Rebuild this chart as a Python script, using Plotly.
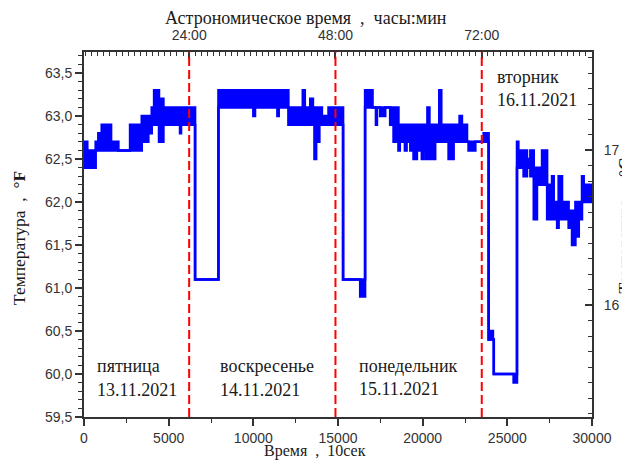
import plotly.graph_objects as go

# ---------------- data ----------------
# time in 10-second units where each step starts, with the max / min
# temperature (°F) of the recorded signal inside that step
seg_start = [0, 195, 690, 845, 945, 1045, 1600, 2030, 2720, 3410, 3800, 4000, 4140, 4430,
             4690, 5670, 5730, 6560, 7940, 9300, 9420, 10000, 10100, 11420, 11500, 12070,
             12920, 13040, 13360, 13520, 13610, 13710, 13790, 13900, 14050, 14440, 15300,
             16310, 16600, 17040, 17240, 17300, 17490, 17790, 18080, 18280, 18570, 18650,
             18950, 19050, 19270, 19460, 19660, 19950, 20050, 20200, 20280, 20400, 20740,
             20980, 21100, 21530, 21830, 22180, 22320, 22620, 22710, 23110, 23600, 23895,
             24000, 24150, 24200, 25370, 25570, 25650, 25960, 26160, 26360, 26560, 26750,
             27050, 27350, 27640, 27740, 27940, 28030, 28230, 28620, 28820, 29020, 29220,
             29410, 29510]
seg_max = [62.7, 62.6, 62.7, 62.8, 62.7, 62.9, 62.7, 62.6, 62.9, 63.0, 63.0, 63.1, 63.3, 63.2,
           63.1, 63.1, 63.1, 61.1, 63.3, 63.2, 63.3, 63.3, 63.3, 63.3, 63.3, 63.1,
           63.3, 63.1, 63.2, 63.1, 63.1, 63.1, 63.1, 63.1, 63.0, 63.1, 61.1,
           61.1, 63.3, 63.1, 63.1, 63.1, 63.1, 63.1, 63.1, 63.1, 62.9, 62.9,
           62.9, 62.9, 62.9, 62.9, 62.9, 62.9, 62.9, 62.9, 63.1, 62.9, 62.9,
           63.3, 62.9, 62.9, 62.9, 63.0, 62.9, 62.7, 62.7, 62.7, 62.8, 60.4,
           60.5, 60.4, 60.0, 60.0, 62.7, 62.6, 62.6, 62.5, 62.6, 62.4, 62.4,
           62.6, 62.2, 62.3, 62.0, 62.0, 62.3, 62.0, 61.9, 61.9, 62.0, 62.0,
           62.3, 62.2]
seg_min = [62.4, 62.4, 62.6, 62.6, 62.6, 62.6, 62.6, 62.6, 62.6, 62.7, 62.8, 62.9, 62.9, 62.7,
           62.9, 62.8, 62.9, 61.1, 63.1, 63.1, 63.1, 63.0, 63.1, 63.0, 63.1, 62.9,
           62.9, 62.9, 62.9, 62.9, 62.5, 62.9, 62.7, 62.9, 62.9, 62.9, 61.1,
           60.9, 63.1, 63.1, 62.9, 63.1, 63.0, 63.1, 62.9, 62.7, 62.6, 62.7,
           62.6, 62.7, 62.6, 62.5, 62.6, 62.5, 62.6, 62.5, 62.7, 62.5, 62.7,
           62.8, 62.7, 62.5, 62.7, 62.7, 62.7, 62.7, 62.6, 62.7, 62.7, 60.4,
           60.4, 60.4, 60.0, 59.9, 62.4, 62.4, 62.3, 62.4, 62.3, 61.8, 62.2,
           62.2, 61.8, 61.8, 61.8, 61.7, 61.8, 61.8, 61.7, 61.5, 61.6, 61.8,
           62.0, 62.0]
x_end = 30000

# bottom axis
x_ticks = [0, 5000, 10000, 15000, 20000, 25000, 30000]
# left axis (°F)
y_ticks = [59.5, 60.0, 60.5, 61.0, 61.5, 62.0, 62.5, 63.0, 63.5]
y_ticktext = ["59,5", "60,0", "60,5", "61,0", "61,5", "62,0", "62,5", "63,0", "63,5"]
# right axis (°C)
c_ticks = [16, 17]
# top axis: astronomical time (hours), midnight marks
hour_ticks = [24, 48, 72]
hour_ticktext = ["24:00", "48:00", "72:00"]
midnight_x = 6210          # position of 24:00 on the bottom axis (10 s units)
units_per_hour = 360       # 10-second units per hour

day_names = ["пятница", "воскресенье", "понедельник", "вторник"]
day_dates = ["13.11.2021", "14.11.2021", "15.11.2021", "16.11.2021"]

# ---------------- figure ----------------
y_lo, y_hi = 59.5, 63.745
x_lo, x_hi = 0, 30000
h_lo = hour_ticks[0] + (x_lo - midnight_x) / units_per_hour
h_hi = hour_ticks[0] + (x_hi - midnight_x) / units_per_hour
c_lo, c_hi = (y_lo - 32) / 1.8, (y_hi - 32) / 1.8

xs = seg_start + [x_end]
ymax = seg_max + [seg_max[-1]]
ymin = seg_min + [seg_min[-1]]

BLUE = "#0000ff"
fig = go.Figure()
fig.add_trace(go.Scatter(x=xs, y=ymax, mode="lines", line=dict(color=BLUE, width=2.5, shape="hv"),
                         hoverinfo="skip", showlegend=False))
fig.add_trace(go.Scatter(x=xs, y=ymin, mode="lines", line=dict(color=BLUE, width=2.5, shape="hv"),
                         fill="tonexty", fillcolor=BLUE, hoverinfo="skip", showlegend=False))
# invisible trace to anchor the top / right axes
fig.add_trace(go.Scatter(x=[h_lo], y=[c_lo], xaxis="x2", yaxis="y2", mode="markers",
                         marker=dict(opacity=0), hoverinfo="skip", showlegend=False))

for h in hour_ticks:
    fig.add_shape(type="line", xref="x2", yref="paper", x0=h, x1=h, y0=0, y1=1,
                  line=dict(color="#ff0000", width=2, dash="9px,4px"))

AX = "#333333"
tickfont = dict(family="Liberation Sans, Arial", size=14, color="#333333")
serif = "Liberation Serif, Times New Roman"

# the page body has an 8px default margin, so the figure is offset by 8px
fig.update_layout(
    width=622, height=457,
    margin=dict(l=76, r=38, t=44, b=48, autoexpand=False),
    paper_bgcolor="white", plot_bgcolor="white",
    xaxis=dict(range=[x_lo, x_hi], tickmode="array", tickvals=x_ticks, automargin=False,
               ticktext=[str(v) for v in x_ticks], ticks="outside", ticklen=7, tickwidth=1.5,
               tickcolor=AX, showline=True, linecolor=AX, linewidth=2, showgrid=False,
               zeroline=False, tickfont=tickfont,
               minor=dict(dtick=2500, tick0=0, ticks="outside", ticklen=4, tickcolor=AX,
                          tickwidth=1.2, showgrid=False)),
    xaxis2=dict(range=[h_lo, h_hi], overlaying="x", side="top", anchor="y2", automargin=False,
                tickmode="array", tickvals=hour_ticks, ticktext=hour_ticktext,
                ticks="inside", ticklen=7, tickwidth=1.5, tickcolor=AX, showline=True,
                linecolor=AX, linewidth=2, showgrid=False, zeroline=False, tickfont=tickfont,
                ticklabelstandoff=4,
                minor=dict(dtick=1, tick0=0, ticks="inside", ticklen=4, tickcolor=AX,
                           tickwidth=1, showgrid=False)),
    yaxis=dict(range=[y_lo, y_hi], tickmode="array", tickvals=y_ticks, ticktext=y_ticktext,
               automargin=False,
               ticks="outside", ticklen=7, tickwidth=1.5, tickcolor=AX, showline=True,
               linecolor=AX, linewidth=2, showgrid=False, zeroline=False, tickfont=tickfont,
               minor=dict(dtick=0.1, tick0=59.5, ticks="outside", ticklen=4, tickcolor=AX,
                          tickwidth=1.2, showgrid=False)),
    yaxis2=dict(range=[c_lo, c_hi], overlaying="y", side="right", anchor="x2", automargin=False,
                tickmode="array", tickvals=c_ticks, ticktext=[str(v) for v in c_ticks],
                ticks="inside", ticklen=7, tickwidth=1.5, tickcolor=AX, showline=True,
                linecolor=AX, linewidth=2, showgrid=False, zeroline=False, tickfont=tickfont,
                ticklabelstandoff=7,
                minor=dict(dtick=0.1, tick0=15, ticks="inside", ticklen=4, tickcolor=AX,
                           tickwidth=1.2, showgrid=False)),
)

fig.add_annotation(text="Астрономическое время  ,  часы:мин", xref="paper", yref="paper",
                   x=0.437, y=1.092, showarrow=False,
                   font=dict(family=serif, size=18, color="#1a1a1a"),
                   xanchor="center", yanchor="middle")
fig.add_annotation(text="Время  ,  10сек", xref="paper", yref="paper",
                   x=0.455, y=-0.093, showarrow=False,
                   font=dict(family=serif, size=16, color="#1a1a1a"),
                   xanchor="center", yanchor="middle")
yfont = dict(family=serif, size=17.5, color="#1a1a1a")
fig.add_annotation(text="Температура  ,  <b>°F</b>", xref="paper", yref="paper",
                   x=-0.128, y=0.49, showarrow=False, font=yfont, textangle=-90,
                   xanchor="center", yanchor="middle")
fig.add_annotation(text="Температура  ,  <b>°C</b>", xref="paper", yref="paper",
                   x=1.064, y=0.523, showarrow=False, font=yfont, textangle=-90,
                   xanchor="center", yanchor="middle")

afont = dict(family=serif, size=18, color="#1a1a1a")
label_pos = [(650, 60.09, 59.81), (7920, 60.09, 59.81), (16130, 60.09, 59.83), (24290, 63.45, 63.19)]
for name, date, (lx, y1, y2) in zip(day_names, day_dates, label_pos):
    fig.add_annotation(text=name, x=lx, y=y1, xref="x", yref="y", showarrow=False,
                       font=afont, xanchor="left", yanchor="middle")
    fig.add_annotation(text=date, x=lx, y=y2, xref="x", yref="y", showarrow=False,
                       font=afont, xanchor="left", yanchor="middle")

fig.write_html("out.html")
